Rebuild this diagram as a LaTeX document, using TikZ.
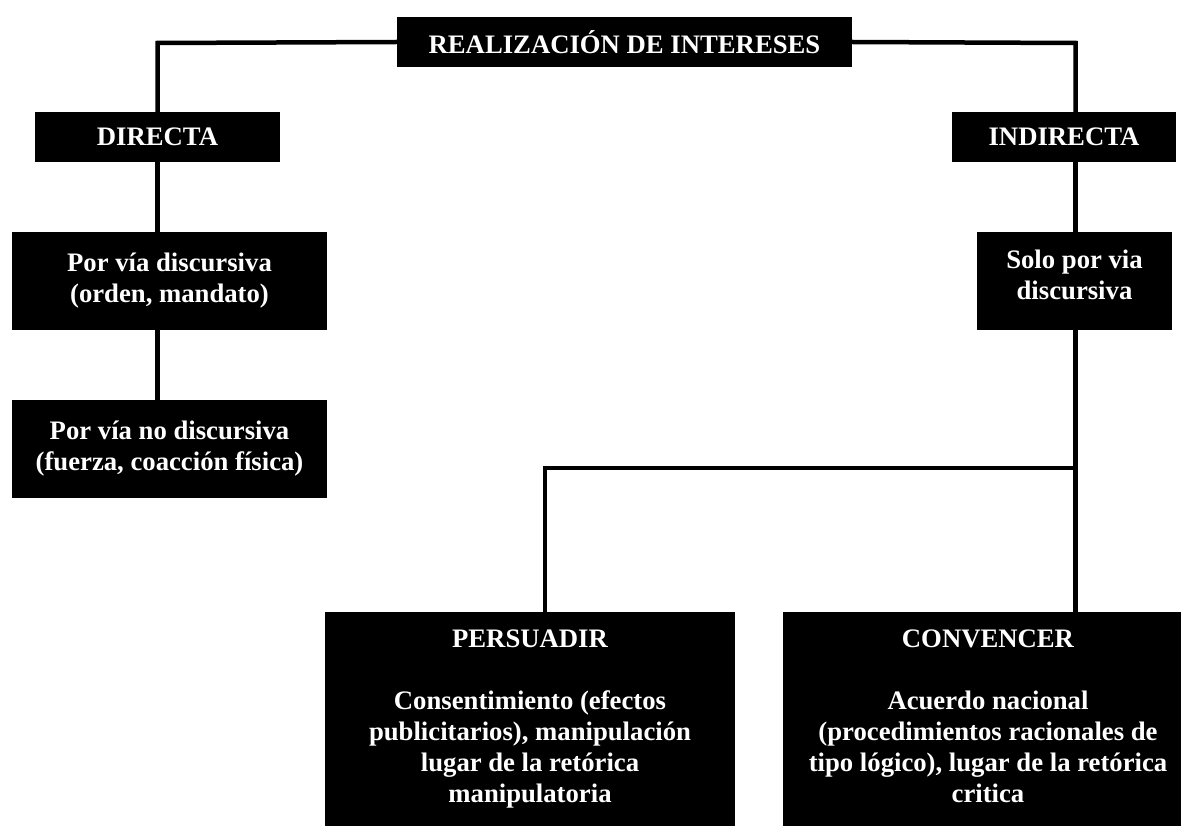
\documentclass[tikz,border=0pt]{standalone}
\usepackage{fontspec}
\setmainfont{Liberation Serif}
\begin{document}
\begin{tikzpicture}[x=1pt,y=-1pt,
  box/.style={fill=black,draw=none,text=white,align=center,inner sep=0pt,
    font=\fontsize{26.7}{31}\selectfont\bfseries},
  conn/.style={line width=4.5pt,line cap=rect}]
\useasboundingbox (0,0) rectangle (1181,826);
\node[box,minimum width=455pt,minimum height=50pt] (top) at (624.5,42) {REALIZACIÓN DE INTERESES};
\node[box,minimum width=245pt,minimum height=50pt] (dir) at (157.5,137) {DIRECTA};
\node[box,minimum width=224pt,minimum height=50pt] (ind) at (1064,137) {INDIRECTA};
\node[box,minimum width=315pt,minimum height=98pt] (pvd) at (169.5,281) {Por vía discursiva\\(orden, mandato)};
\node[box,minimum width=315pt,minimum height=98pt] (pvnd) at (169.5,449) {Por vía no discursiva\\(fuerza, coacción física)};
\node[box,minimum width=195pt,minimum height=98pt] (solo) at (1074.5,281) {Solo por via\\discursiva\\[-27pt]\strut};
\node[box,minimum width=410pt,minimum height=214pt,anchor=north] (pers) at (530,612)
  {\strut PERSUADIR\\[31pt]Consentimiento (efectos\\publicitarios), manipulación\\lugar de la retórica\\manipulatoria\strut};
\node[box,minimum width=410pt,minimum height=214pt,anchor=north] (conv) at (988,612)
  {\strut CONVENCER\\[31pt]Acuerdo nacional\\(procedimientos racionales de\\tipo lógico), lugar de la retórica\\critica\strut};
\coordinate (lx) at (157.5,43);
\coordinate (rx) at (1075.5,43);
\coordinate (j) at (545,468);
\draw[conn] (top.west) -- (lx) -- (dir.north);
\draw[conn] (top.east) -- (rx) -- (rx |- ind.north);
\draw[conn] (dir.south) -- (dir.south |- pvd.north);
\draw[conn] (dir.south |- pvd.south) -- (dir.south |- pvnd.north);
\draw[conn] (rx |- ind.south) -- (rx |- solo.north);
\draw[conn] (rx |- solo.south) -- (rx |- conv.north);
\draw[conn] (rx |- j) -- (j) -- (j |- pers.north);
\end{tikzpicture}
\end{document}
